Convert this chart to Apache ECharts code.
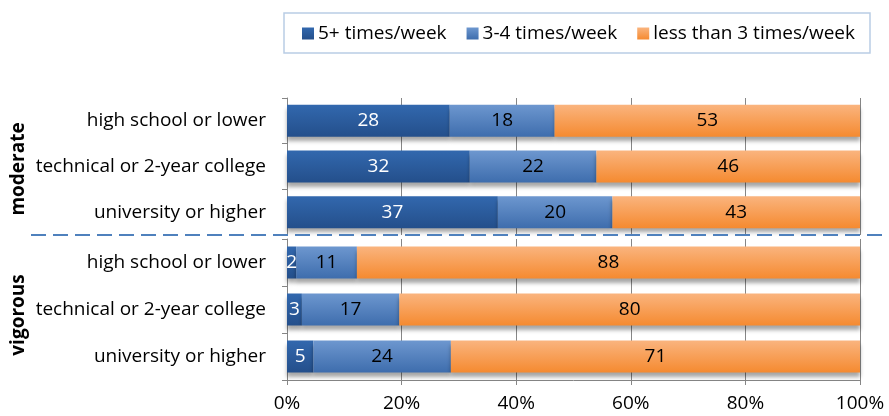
<!DOCTYPE html>
<html>
<head>
<meta charset="utf-8">
<script src="https://cdn.jsdelivr.net/npm/echarts@6/dist/echarts.min.js"></script>
<style>html,body{margin:0;padding:0;background:#fff;}#c{width:889px;height:416px;}</style>
</head>
<body>
<div id="c"></div>
<script>
var categories = ["high school or lower", "technical or 2-year college", "university or higher"];
var groups = ["moderate", "vigorous"];
var seriesNames = ["5+ times/week", "3-4 times/week", "less than 3 times/week"];
var moderate5 = [28.4, 31.9, 36.8];
var moderate34 = [18.3, 22.1, 20.0];
var moderateLess = [53.3, 46.0, 43.2];
var vigorous5 = [1.6, 2.6, 4.6];
var vigorous34 = [10.6, 17.0, 24.0];
var vigorousLess = [87.8, 80.4, 71.4];
var xTicks = [0, 20, 40, 60, 80, 100];

var FONT = '"Open Sans"';
var FS = 19;
function grad(a, b) {
  return new echarts.graphic.LinearGradient(0, 0, 0, 1, [{offset: 0, color: a}, {offset: 1, color: b}]);
}
var colors = [grad('#3268ae', '#244f8b'), grad('#6d97cf', '#3e6dad'), grad('#fab47e', '#f58a30')];
var labelColors = ['#ffffff', '#000000', '#000000'];

function mkSeries(gi, arrs) {
  return arrs.map(function (arr, i) {
    return {
      name: seriesNames[i], type: 'bar', stack: 'g' + gi,
      xAxisIndex: gi, yAxisIndex: gi, barWidth: 32,
      data: arr,
      itemStyle: {color: colors[i], shadowColor: 'rgba(0,0,0,0.35)', shadowBlur: 4, shadowOffsetY: 4},
      label: {show: true, position: 'inside', color: labelColors[i], fontFamily: FONT, fontSize: FS,
        formatter: function (p) { return Math.round(p.value); }},
      emphasis: {disabled: true}, animation: false
    };
  });
}

function xAxis(gi, showLabels) {
  return {
    type: 'value', gridIndex: gi, min: 0, max: 100, interval: 20,
    axisLine: {show: showLabels, lineStyle: {color: '#868686'}},
    axisTick: {show: showLabels, length: 5, lineStyle: {color: '#868686'}},
    axisLabel: {show: showLabels, fontFamily: FONT, fontSize: FS, color: '#000', margin: 14,
      formatter: function (v) { return xTicks.indexOf(v) >= 0 ? v + '%' : ''; }},
    splitLine: {show: true, lineStyle: {color: '#868686', width: 1}}
  };
}
function yAxis(gi) {
  return {
    type: 'category', gridIndex: gi, data: categories, inverse: true,
    axisLine: {show: true, lineStyle: {color: '#868686'}},
    axisTick: {show: true, length: 5, lineStyle: {color: '#868686'}},
    axisLabel: {fontFamily: FONT, fontSize: FS, color: '#000', margin: 21}
  };
}

var chart = echarts.init(document.getElementById('c'), null, {renderer: 'canvas'});
chart.setOption({
  animation: false,
  backgroundColor: '#fff',
  legend: {
    left: 284, top: 13,
    data: seriesNames,
    borderColor: '#b9cde5', borderWidth: 1.5, padding: [11, 15, 10, 18],
    itemWidth: 12, itemHeight: 12, itemGap: 20,
    icon: 'rect',
    textStyle: {fontFamily: FONT, fontSize: FS, color: '#000', padding: [0, 0, 0, -1]},
    selectedMode: false
  },
  grid: [
    {left: 287, right: 29, top: 98, height: 137},
    {left: 287, right: 29, top: 239, height: 141}
  ],
  xAxis: [xAxis(0, false), xAxis(1, true)],
  yAxis: [yAxis(0), yAxis(1)],
  series: mkSeries(0, [moderate5, moderate34, moderateLess]).concat(mkSeries(1, [vigorous5, vigorous34, vigorousLess])),
  graphic: [
    {type: 'line', shape: {x1: 31, y1: 235, x2: 889, y2: 235}, z: 100,
      style: {stroke: '#4f81bd', lineWidth: 2, lineDash: [15, 7]}},
    {type: 'text', x: 19, y: 169, rotation: Math.PI / 2, z: 100,
      style: {text: groups[0], font: 'bold 19px ' + FONT, fill: '#000', textAlign: 'center', textVerticalAlign: 'middle'}},
    {type: 'text', x: 19, y: 315, rotation: Math.PI / 2, z: 100,
      style: {text: groups[1], font: 'bold 19px ' + FONT, fill: '#000', textAlign: 'center', textVerticalAlign: 'middle'}}
  ]
});
</script>
</body>
</html>
